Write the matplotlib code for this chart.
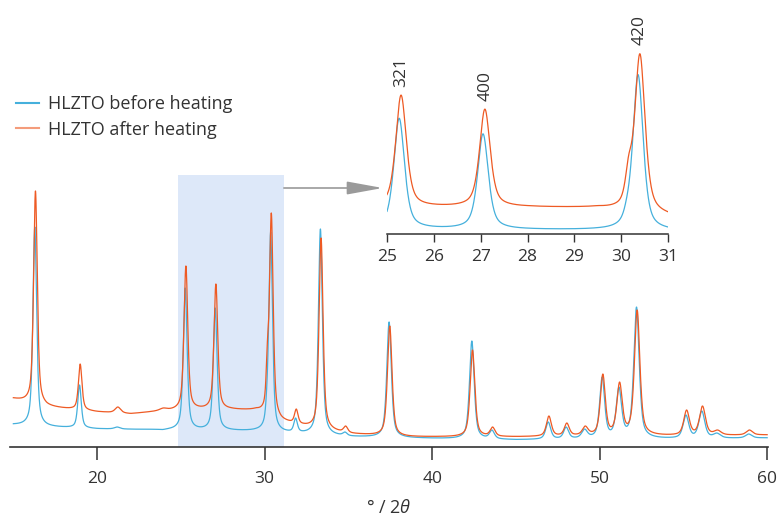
import numpy as np
import matplotlib
matplotlib.use("Agg")
import matplotlib.pyplot as plt
from matplotlib.lines import Line2D

plt.rcParams['font.family'] = ['Open Sans', 'DejaVu Sans']
plt.rcParams['mathtext.fontset'] = 'custom'
plt.rcParams['mathtext.it'] = 'Open Sans:italic'
plt.rcParams['mathtext.rm'] = 'Open Sans'

BLUE = '#45b0dc'
ORANGE = '#ee5a24'
TEXT = '#333333'

# reflections: 2theta, apex intensity (before / after heating), fwhm
peak_pos = [16.28, 18.95, 21.2, 23.9, 25.26, 27.05, 30.12, 30.36, 31.85, 33.33,
            34.8, 37.43, 42.37, 43.57, 46.93, 48.0, 49.1, 50.15, 51.15, 52.2,
            55.15, 56.1, 57.0, 58.9]
before_apex = [220, 62, 20, 17.5, 159, 139, 58, 215, 29, 218,
               15, 125, 106, 17, 25, 20, 18, 70, 60, 140,
               32, 36, 14, 13]
after_apex = [256, 83, 40, 39, 181, 163, 104, 234, 38, 209,
              21, 121, 97, 20, 31, 24, 21, 73, 65, 137,
              37, 41, 17, 17]
peak_fwhm = [0.26, 0.25, 0.4, 0.5, 0.27, 0.27, 0.17, 0.26, 0.25, 0.28,
             0.3, 0.32, 0.33, 0.35, 0.35, 0.35, 0.4, 0.35, 0.38, 0.38,
             0.4, 0.42, 0.5, 0.45]
after_shift = 0.04

# background levels
bg_angle = [15, 17, 20, 22, 24, 26, 28, 29.5, 31, 33, 35, 38, 45, 50, 55, 60]
before_bg = [22, 20, 18, 17.5, 17, 16.5, 16, 15.5, 14, 12, 10, 9, 7, 8, 8, 9]
after_bg = [48, 40, 35, 33, 36, 37, 37, 36, 25, 18, 13, 10, 10, 11, 11, 12]

two_theta = np.arange(15.0, 60.0001, 0.005)


def pseudo_voigt(x, x0, fwhm, eta=0.6):
    d = (x - x0) / fwhm
    lor = 1.0 / (1.0 + 4.0 * d ** 2)
    gau = np.exp(-4.0 * np.log(2) * d ** 2)
    return eta * lor + (1 - eta) * gau


def pattern(apex, bg, shift):
    pos = np.array(peak_pos) + shift
    w = np.array(peak_fwhm)
    # amplitudes chosen so every apex lands on its listed value
    m = np.array([[pseudo_voigt(p, q, wq) for q, wq in zip(pos, w)] for p in pos])
    amp = np.linalg.solve(m, np.array(apex) - np.interp(pos, bg_angle, bg))
    y = np.interp(two_theta, bg_angle, bg)
    for a, q, wq in zip(amp, pos, w):
        y = y + a * pseudo_voigt(two_theta, q, wq)
    return y


before = pattern(before_apex, before_bg, 0.0)
after = pattern(after_apex, after_bg, after_shift)

fig = plt.figure(figsize=(7.82, 5.17), dpi=100)
W, H = 782.0, 517.0
ax = fig.add_axes([10 / W, (H - 447) / H, 758 / W, 447 / H])
ax.set_xlim(14.8, 60.05)
ax.set_ylim(0, 447)

ax.axvspan(24.82, 31.15, ymin=0, ymax=(447 - 175) / 447, color='#dde8f9', lw=0, zorder=0)
ax.plot(two_theta, before, color=BLUE, lw=0.9, zorder=2)
ax.plot(two_theta, after, color=ORANGE, lw=0.9, zorder=3)

for s in ['top', 'right', 'left']:
    ax.spines[s].set_visible(False)
ax.spines['bottom'].set_color(TEXT)
ax.spines['bottom'].set_linewidth(1.2)
ax.set_yticks([])
ax.set_xticks([20, 30, 40, 50, 60])
ax.tick_params(axis='x', direction='out', length=9, width=1.1, color=TEXT,
               labelsize=12.5, labelcolor=TEXT, pad=8)
ax.set_xlabel('° / 2$\\it{θ}$', fontsize=13, color=TEXT, labelpad=9)

ax.annotate('', xy=(37.05, 259), xytext=(31.15, 259),
            arrowprops=dict(arrowstyle='-|>,head_length=2.2,head_width=0.4',
                            color='#9a9a9a', lw=1.2, shrinkA=0, shrinkB=0))

handles = [Line2D([], [], color=BLUE, lw=1.5),
           Line2D([], [], color=ORANGE, lw=1.5, alpha=0.6)]
leg = fig.legend(handles, ['HLZTO before heating', 'HLZTO after heating'],
                 loc='upper left', bbox_to_anchor=(16 / W, 1 - 95 / H),
                 frameon=False, fontsize=13, handlelength=1.3, handletextpad=0.45,
                 labelspacing=0.42, borderaxespad=0, borderpad=0)
for t in leg.get_texts():
    t.set_color(TEXT)

# inset: 25-31 degrees
inset_scale = 0.78
inset_base = 10.6
inset_after_offset = 7.7
axi = fig.add_axes([387 / W, (H - 234) / H, 281 / W, 234 / H])
mask = (two_theta >= 25) & (two_theta <= 31)
axi.plot(two_theta[mask], before[mask], color=BLUE, lw=0.9)
axi.plot(two_theta[mask], after[mask] + inset_after_offset, color=ORANGE, lw=0.9)
axi.set_xlim(25, 31)
axi.set_ylim(inset_base, inset_base + 234 / inset_scale)
axi.patch.set_visible(False)
for s in ['top', 'right', 'left']:
    axi.spines[s].set_visible(False)
axi.spines['bottom'].set_color(TEXT)
axi.spines['bottom'].set_linewidth(1.1)
axi.set_yticks([])
axi.set_xticks(range(25, 32))
axi.tick_params(axis='x', direction='out', length=6, width=1.0, color=TEXT,
                labelsize=12.5, labelcolor=TEXT, pad=5)

hkl_labels = ['321', '400', '420']
hkl_pos = [25.30, 27.10, 30.40]
for lab, p in zip(hkl_labels, hkl_pos):
    i = np.argmin(np.abs(two_theta - p))
    axi.annotate(lab, xy=(p, after[i] + inset_after_offset), xytext=(0, 6),
                 textcoords='offset points', rotation=90, ha='center', va='bottom',
                 fontsize=12.5, color=TEXT)

fig.savefig('out.png', dpi=100)
